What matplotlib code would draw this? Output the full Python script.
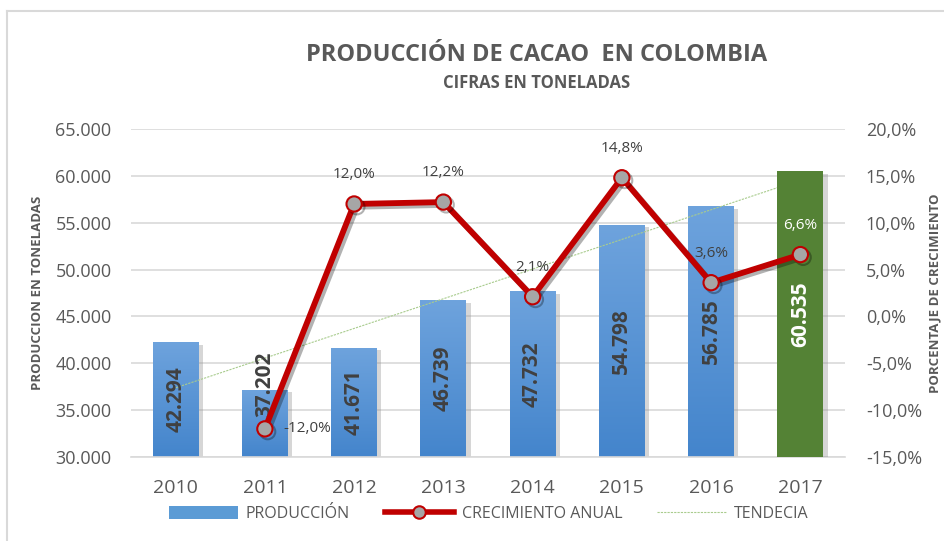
import numpy as np
import matplotlib.pyplot as plt
import matplotlib.patheffects as pe
from matplotlib.patches import Patch
from matplotlib.lines import Line2D
from matplotlib.colors import LinearSegmentedColormap

plt.rcParams['font.family'] = ['Open Sans', 'DejaVu Sans']

# datos
years = ['2010', '2011', '2012', '2013', '2014', '2015', '2016', '2017']
produccion = [42294, 37202, 41671, 46739, 47732, 54798, 56785, 60535]
crecimiento = [np.nan, -0.120, 0.120, 0.122, 0.021, 0.148, 0.036, 0.066]

y_ticks = [30000, 35000, 40000, 45000, 50000, 55000, 60000, 65000]
pct_ticks = [-0.15, -0.10, -0.05, 0.0, 0.05, 0.10, 0.15, 0.20]

GRAY = '#595959'
DARK = '#404040'
GRID = '#D9D9D9'
RED = '#C00000'
GREEN = '#548235'

fig = plt.figure(figsize=(9.44, 5.41), dpi=100)
ax = fig.add_axes([131/944, 1 - 457/541, (845 - 131)/944, (457 - 129)/541])
ax2 = ax.twinx()

x = np.arange(len(years))
w = 0.515
base = y_ticks[0]

# tendencia lineal (como la linea de tendencia de Excel)
coef = np.polyfit(x, produccion, 1)
tend = np.polyval(coef, x)

grad = LinearSegmentedColormap.from_list('g', ['#4485CC', '#6EA3DD'])
shadow = [pe.SimplePatchShadow(offset=(3, -2), shadow_rgbFace='#8C8C8C', alpha=0.35), pe.Normal()]

for i, v in enumerate(produccion):
    last = i == len(produccion) - 1
    col = GREEN if last else '#5B9BD5'
    bar = ax.bar(x[i], v - base, bottom=base, width=w, color=col, zorder=4 if last else 2,
                 path_effects=shadow)[0]
    if not last:
        im = ax.imshow(np.linspace(0, 1, 100).reshape(-1, 1), cmap=grad, origin='lower',
                       extent=(x[i] - w/2, x[i] + w/2, base, v), aspect='auto', zorder=2.1)
        im.set_clip_path(bar)
    # etiqueta centrada en la barra (2011 desplazada hacia arriba)
    ly = 37800 if i == 1 else (base + v) / 2
    ax.text(x[i], ly, f"{v:,}".replace(',', '.'), rotation=90, ha='center', va='center',
            fontsize=15, fontweight='bold', color='white' if last else DARK, zorder=5)

ax.plot(x, tend, color='#A9CC8E', lw=0.8, ls=(0, (2, 1)), zorder=3)

ax.set_xlim(-0.5, len(years) - 0.5)
ax.set_ylim(y_ticks[0], y_ticks[-1])
ax.set_yticks(y_ticks)
ax.set_yticklabels([f"{t:,}".replace(',', '.') for t in y_ticks])
ax.set_xticks(x)
ax.set_xticklabels(years, fontsize=14)
ax.grid(axis='y', color=GRID, lw=1.2, zorder=0)
ax.set_axisbelow(True)

# linea de crecimiento
ax2.plot(x, crecimiento, color=RED, lw=4.2, marker='o', ms=11, mfc='#A6A6A6', mec=RED, mew=1.5,
         path_effects=[pe.SimpleLineShadow(offset=(2, -2), alpha=0.3), pe.Normal()], zorder=5)
for i, c in enumerate(crecimiento):
    if np.isnan(c):
        continue
    txt = f"{c*100:.1f}".replace('.', ',') + '%'
    col = 'white' if i == len(years) - 1 else DARK
    if c < 0:
        ax2.annotate(txt, (x[i], c), xytext=(13, 0), textcoords='offset points',
                     ha='left', va='center', fontsize=11, color=col)
    else:
        ax2.annotate(txt, (x[i], c), xytext=(0, 21), textcoords='offset points',
                     ha='center', va='center', fontsize=11, color=col)
ax2.set_ylim(pct_ticks[0], pct_ticks[-1])
ax2.set_yticks(pct_ticks)
ax2.set_yticklabels([f"{t*100:.1f}".replace('.', ',') + '%' for t in pct_ticks])

for a in (ax, ax2):
    for s in a.spines.values():
        s.set_visible(False)
    a.tick_params(length=0, labelsize=13, labelcolor=GRAY)
ax.spines['bottom'].set_visible(True)
ax.spines['bottom'].set_color(GRID)
ax.spines['bottom'].set_linewidth(1.2)
ax.tick_params(axis='y', pad=14)
ax.tick_params(axis='x', pad=16, labelsize=14)
ax2.tick_params(axis='y', pad=15)

# titulos
fig.text(0.568, 1 - 55/541, 'PRODUCCIÓN DE CACAO  EN COLOMBIA', ha='center', va='center',
         fontsize=17, fontweight='bold', color=GRAY)
fig.text(0.568, 1 - 83/541, 'CIFRAS EN TONELADAS', ha='center', va='center',
         fontsize=12, fontweight='bold', color=GRAY)
fig.text(38/944, 1 - 293/541, 'PRODUCCION EN TONELADAS', rotation=90, ha='center', va='center',
         fontsize=9.5, fontweight='bold', color=GRAY)
fig.text(935/944, 1 - 293/541, 'PORCENTAJE DE CRECIMIENTO', rotation=90, ha='center', va='center',
         fontsize=9.5, fontweight='bold', color=GRAY)

# leyenda
handles = [Patch(facecolor='#5B9BD5'),
           Line2D([], [], color=RED, lw=4, marker='o', ms=9, mfc='#A6A6A6', mec=RED, mew=1.5),
           Line2D([], [], color='#A9CC8E', lw=0.8, ls=(0, (2, 1)))]
fig.legend(handles, ['PRODUCCIÓN', 'CRECIMIENTO ANUAL', 'TENDECIA'], ncol=3, frameon=False,
           loc='center', bbox_to_anchor=(0.518, 1 - 514/541), fontsize=11.5, labelcolor=GRAY,
           handlelength=4.3, handleheight=0.9, columnspacing=2.2, handletextpad=0.5)

# marco del grafico
fig.add_artist(Line2D([7/944, 7/944], [0, 1 - 11/541], color=GRID, lw=1.5))
fig.add_artist(Line2D([7/944, 1], [1 - 11/541, 1 - 11/541], color=GRID, lw=1.5))

fig.savefig('out.png', dpi=100)
